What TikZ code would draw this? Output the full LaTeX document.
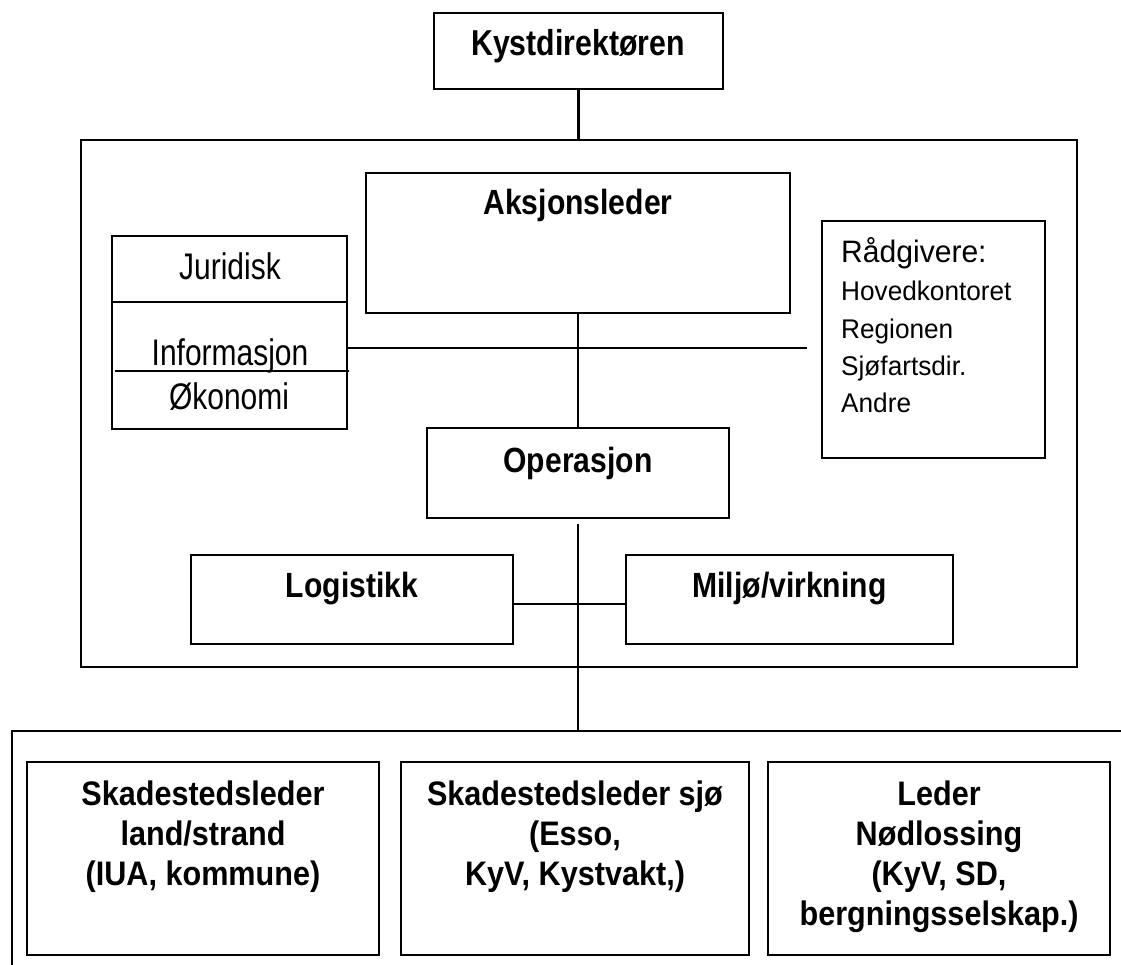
\documentclass[tikz,border=0pt]{standalone}
\usepackage{fontspec}
\setmainfont{Liberation Sans}
\newfontfamily\headfont[FakeStretch=0.86]{Liberation Sans}
\newfontfamily\kystfont[FakeStretch=0.84]{Liberation Sans}
\newfontfamily\narrowfont[FakeStretch=0.81]{Liberation Sans}
\newfontfamily\advfont[FakeStretch=0.97]{Liberation Sans}
\newfontfamily\lowfont[FakeStretch=0.9]{Liberation Sans}
\usetikzlibrary{calc}
\begin{document}
\begin{tikzpicture}[x=1pt,y=-1pt,
  box/.style={draw, line width=2.3pt, inner sep=0pt, outer sep=0pt},
  conn/.style={line width=2.3pt},
  head/.style={anchor=base, inner sep=0pt, font=\headfont\bfseries\fontsize{35}{40}\selectfont},
  kysthead/.style={anchor=base, inner sep=0pt, font=\kystfont\bfseries\fontsize{36}{40}\selectfont},
  plain/.style={anchor=base, inner sep=0pt, font=\narrowfont\fontsize{37}{42}\selectfont},
  advhead/.style={anchor=base west, inner sep=0pt, font=\advfont\fontsize{31}{37}\selectfont},
  advline/.style={anchor=base west, inner sep=0pt, font=\advfont\fontsize{27}{37}\selectfont},
  lowtext/.style={anchor=north, inner sep=0pt, align=center, font=\lowfont\bfseries\fontsize{34}{40}\selectfont}
]
\useasboundingbox (0,0) rectangle (1121,965);

% boxes
\node[box, minimum width=289pt, minimum height=76pt] (kyst) at (578.5,51) {};
\node[box, minimum width=996pt, minimum height=527pt] (frame) at (579,403.5) {};
\node[box, minimum width=424pt, minimum height=140pt] (aks) at (578,243) {};
\node[box, minimum width=235pt, minimum height=193pt] (left) at (229.5,332.5) {};
\node[box, minimum width=223pt, minimum height=237pt] (rad) at (933.5,339.5) {};
\node[box, minimum width=302pt, minimum height=90pt] (ops) at (578,473) {};
\node[box, minimum width=322pt, minimum height=89pt] (log) at (352,599.5) {};
\node[box, minimum width=327pt, minimum height=89pt] (mil) at (789.5,599.5) {};
\node[box, minimum width=352pt, minimum height=193pt] (b1) at (203,858.5) {};
\node[box, minimum width=348pt, minimum height=193pt] (b2) at (575,858.5) {};
\node[box, minimum width=342pt, minimum height=193pt] (b3) at (939,858.5) {};

% bottom open frame
\coordinate (bfl) at (12,731);
\coordinate (bfb) at (12,965);
\coordinate (bfr) at (1121,731);
\draw[conn] (bfb) -- (bfl) -- (bfr);

% dividers in left box
\draw[conn] (left.west |- 0,302) -- (left.east |- 0,302);
\coordinate (infoL) at (115,371);
\coordinate (infoR) at (349,371);
\draw[conn] (infoL) -- (infoR);

% connectors
\draw[conn] (kyst.south) -- (kyst.south |- frame.north);
\draw[conn] (aks.south) -- (ops.north);
\coordinate (advend) at (807,348);
\draw[conn] (left.east |- advend) -- (advend);
\coordinate (opsgap) at (578,524);
\draw[conn] (opsgap) -- (opsgap |- bfl);
\coordinate (lm) at (578,604);
\draw[conn] (log.east |- lm) -- (mil.west |- lm);

% labels
\node[kysthead] (tkyst) at (578,56) {Kystdirektøren};
\node[head] (taks) at (578,215) {Aksjonsleder};
\node[plain] (tjur) at (230,280) {Juridisk};
\node[plain] (tinf) at (230,365) {Informasjon};
\node[plain] (tok) at (229,409) {Økonomi};
\node[advhead] (trad) at (841,263) {Rådgivere:};
\node[advline] (trad1) at (841,301) {Hovedkontoret};
\node[advline] (trad2) at (841,338) {Regionen};
\node[advline] (trad3) at (841,375) {Sjøfartsdir.};
\node[advline] (trad4) at (841,412) {Andre};
\node[head] (tops) at (578,472) {Operasjon};
\node[head] (tlog) at (352,597) {Logistikk};
\node[head] (tmil) at (789.5,597) {Miljø/virkning};
\node[lowtext] (tb1) at (203,781) {Skadestedsleder\\land/strand\\(IUA, kommune)};
\node[lowtext] (tb2) at (575,781) {Skadestedsleder sjø\\(Esso,\\KyV, Kystvakt,)};
\node[lowtext] (tb3) at (939,781) {Leder\\Nødlossing\\(KyV, SD,\\bergningsselskap.)};
\end{tikzpicture}
\end{document}
